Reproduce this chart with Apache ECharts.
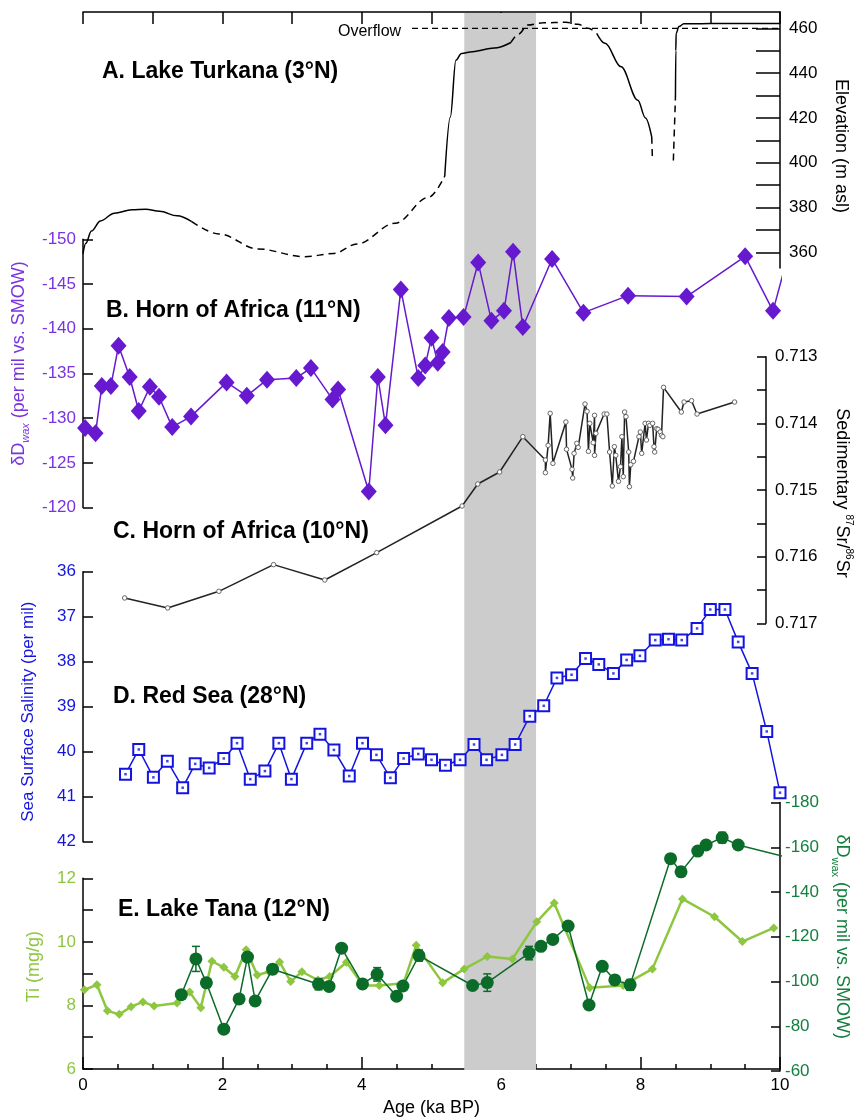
<!DOCTYPE html>
<html>
<head>
<meta charset="utf-8">
<script src="https://cdn.jsdelivr.net/npm/echarts@6.0.0/dist/echarts.min.js"></script>
<style>
html,body{margin:0;padding:0;background:#fff;}
#main{width:862px;height:1118px;}
</style>
</head>
<body>
<div id="main"></div>
<script>
// ---------------- DATA ----------------
// A. Lake Turkana elevation (m asl) vs age (ka BP)
const turkanaSolid1 = [[0,359.4],[0.04,364],[0.12,369.5],[0.25,374],[0.45,377.5],[0.7,379],[0.9,379.2],[1.1,378.3],[1.35,376.3],[1.56,373.7]];
const turkanaDash1  = [[1.56,373.7],[1.95,368.2],[2.51,361.5],[3.18,358],[3.6,359.5],[3.93,363.7],[4.48,373],[4.96,384.6],[5.19,394]];
const turkanaSolid2 = [[5.19,394],[5.27,420.4],[5.35,445.8],[5.43,448.8],[5.59,449.6],[5.9,451.2],[6.14,453.7]];
const turkanaDash2  = [[6.14,453.7],[6.25,457.5],[6.38,461.5],[6.6,462.5],[6.93,462.7],[7.1,461.8],[7.25,460],[7.37,457.8]];
const turkanaSolid3 = [[7.37,457.8],[7.49,453.3],[7.72,442.8],[7.96,427.9],[8.07,420],[8.16,411.5]];
const turkanaDash3  = [[8.16,411.5],[8.17,401]];
const turkanaDash4  = [[8.47,401],[8.5,429.4]];
const turkanaSolid4 = [[8.5,429.4],[8.505,450],[8.51,457.8],[8.55,460.8],[8.62,462],[9.0,462.2],[10,462.2]];
const overflowLine  = [[4.72,460],[10,460]];
const elevTicks  = [360,370,380,390,400,410,420,430,440,450,460];
const elevLabels = [360,380,400,420,440,460];

// B. Horn of Africa leaf wax dD
const hornAge = [0.03,0.18,0.27,0.40,0.51,0.67,0.80,0.96,1.09,1.28,1.55,2.06,2.35,2.64,3.06,3.27,3.58,3.66,4.10,4.23,4.34,4.56,4.81,4.91,5.00,5.09,5.16,5.25,5.46,5.67,5.86,6.04,6.17,6.31,6.73,7.18,7.82,8.66,9.50,9.90,10.15];
const hornDD  = [-128.9,-128.3,-133.6,-133.6,-138.1,-134.6,-130.8,-133.5,-132.4,-129.0,-130.2,-134.0,-132.5,-134.3,-134.5,-135.6,-132.1,-133.2,-121.8,-134.6,-129.2,-144.4,-134.5,-135.9,-139.0,-136.2,-137.4,-141.2,-141.3,-147.4,-140.9,-142.0,-148.6,-140.2,-147.8,-141.8,-143.7,-143.6,-148.1,-142.0,-149.2];

// C. Horn of Africa sedimentary 87Sr/86Sr
const srAge = [0.61,1.24,1.99,2.79,3.54,4.30,5.55,5.78,6.10,6.44,6.77,6.77,6.81,6.84,6.88,7.07,7.08,7.16,7.17,7.19,7.23,7.25,7.35,7.38,7.40,7.42,7.47,7.49,7.49,7.51,7.63,7.67,7.71,7.75,7.78,7.80,7.84,7.87,7.89,7.91,7.93,7.95,7.99,8.00,8.02,8.06,8.14,8.16,8.18,8.23,8.25,8.28,8.30,8.34,8.36,8.37,8.40,8.42,8.45,8.47,8.49,8.50,8.76,8.80,8.91,8.99,9.54];
const srVal = [0.71662,0.71677,0.71652,0.71612,0.71635,0.71594,0.71524,0.71491,0.71473,0.71420,0.71455,0.71474,0.71433,0.71385,0.71460,0.71398,0.71439,0.71469,0.71482,0.71445,0.71430,0.71436,0.71371,0.71382,0.71442,0.71400,0.71429,0.71388,0.71448,0.71415,0.71386,0.71386,0.71443,0.71494,0.71435,0.71448,0.71487,0.71465,0.71420,0.71480,0.71383,0.71390,0.71443,0.71495,0.71462,0.71457,0.71420,0.71413,0.71445,0.71400,0.71425,0.71400,0.71403,0.71400,0.71435,0.71443,0.71408,0.71409,0.71413,0.71418,0.71420,0.71346,0.71383,0.71368,0.71366,0.71386,0.71368];

// D. Red Sea sea surface salinity
const sssAge = [0.61,0.80,1.01,1.21,1.43,1.61,1.81,2.02,2.21,2.40,2.61,2.81,2.99,3.21,3.40,3.60,3.82,4.01,4.21,4.41,4.60,4.81,5.00,5.20,5.41,5.61,5.79,6.01,6.20,6.41,6.61,6.80,7.01,7.21,7.40,7.61,7.80,7.99,8.21,8.40,8.59,8.81,9.00,9.21,9.40,9.60,9.81,10.0];
const sssVal = [40.50,39.95,40.57,40.21,40.80,40.27,40.36,40.15,39.81,40.61,40.43,39.81,40.61,39.81,39.61,39.96,40.54,39.81,40.07,40.58,40.15,40.05,40.18,40.30,40.18,39.84,40.18,40.07,39.84,39.21,38.98,38.36,38.29,37.93,38.06,38.26,37.96,37.87,37.52,37.50,37.52,37.26,36.84,36.84,37.56,38.26,39.55,40.91];

// E. Lake Tana Ti (mg/g) and leaf wax dD
const tiAge = [0.02,0.20,0.35,0.52,0.69,0.86,1.02,1.35,1.53,1.69,1.85,2.02,2.18,2.34,2.50,2.67,2.82,2.98,3.14,3.37,3.54,3.78,4.02,4.25,4.60,4.78,5.16,5.47,5.80,6.16,6.51,6.76,7.27,7.75,8.17,8.60,9.06,9.46,9.91];
const tiVal = [8.49,8.65,7.83,7.72,7.96,8.11,7.98,8.08,8.42,7.93,9.39,9.20,8.91,9.75,8.96,9.06,9.37,8.75,9.06,8.80,8.91,9.36,8.63,8.63,8.70,9.89,8.71,9.15,9.54,9.46,10.63,11.22,8.56,8.63,9.15,11.35,10.79,10.01,10.44];
const tanaAge = [1.41,1.62,1.77,2.02,2.24,2.36,2.47,2.72,3.38,3.53,3.71,4.01,4.22,4.50,4.59,4.82,5.59,5.80,6.40,6.57,6.74,6.96,7.26,7.45,7.63,7.85,8.43,8.58,8.82,8.94,9.17,9.40,10.3];
const tanaDD  = [-94.1,-110.1,-99.4,-78.7,-92.2,-110.9,-91.3,-105.5,-98.8,-97.8,-114.9,-98.9,-103.2,-93.4,-98.0,-111.6,-98.2,-99.5,-112.7,-115.7,-118.8,-124.8,-89.5,-106.8,-100.7,-98.5,-154.9,-149.0,-158.3,-161.0,-164.3,-161.0,-154.0];
const tanaErrAge  = [1.62,2.72,3.38,4.22,4.82,5.80,6.40,7.85,9.17];
const tanaErrHalf = [5.6,2.0,2.5,3.0,2.5,3.9,3.0,2.4,2.4];

// shaded interval (ka BP)
const bandAge = [5.47, 6.5];

// text
const panelTitles = ['A. Lake Turkana (3°N)','B. Horn of Africa (11°N)','C. Horn of Africa (10°N)','D. Red Sea (28°N)','E. Lake Tana (12°N)'];

// ---------------- CHART ----------------
const FONT = '"Liberation Sans", Arial, sans-serif';
const PURPLE = '#6619cf', PURPLE_T = '#7a33e0';
const BLUE = '#1414e0';
const LGREEN = '#8dc63f';
const DGREEN = '#0b6b28', DGREEN_T = '#13803f';
const zip = (a,b) => a.map((v,i)=>[v,b[i]]);

const L = 83, R = 82;
const grids = [
  {left:L, right:R, top:12,    height:256},   // 0 A
  {left:L, right:R, top:239.3, height:268.3}, // 1 B
  {left:L, right:R, top:356.7, height:266.6}, // 2 C
  {left:L, right:R, top:571.7, height:270},   // 3 D
  {left:L, right:R, top:878.3, height:192.7}, // 4 E Ti
  {left:L, right:R, top:802.5, height:268.5}, // 5 E dD
  {left:L, right:R, top:13,    height:1057}   // 6 band
];

const axLine = {show:true, onZero:false, lineStyle:{color:'#000', width:1.5}};
const tickStyle = {color:'#000', width:1.5};

function hiddenX(i){ return {type:'value', gridIndex:i, min:0, max:10, show:false}; }

const xAxes = [
  {type:'value', gridIndex:0, min:0, max:10, interval:1, position:'top',
   axisLine:axLine, axisTick:{show:true, inside:true, length:12, lineStyle:tickStyle},
   axisLabel:{show:false}, splitLine:{show:false}},
  hiddenX(1), hiddenX(2), hiddenX(3),
  {type:'value', gridIndex:4, min:0, max:10, interval:2, position:'bottom',
   axisLine:axLine, axisTick:{show:true, inside:true, length:12, lineStyle:tickStyle},
   minorTick:{show:true, splitNumber:4, length:5, lineStyle:tickStyle},
   axisLabel:{color:'#000', fontSize:17, fontFamily:FONT, margin:8},
   splitLine:{show:false}, minorSplitLine:{show:false},
   name:'Age (ka BP)', nameLocation:'middle', nameGap:30,
   nameTextStyle:{color:'#000', fontSize:18, fontFamily:FONT}},
  hiddenX(5), hiddenX(6)
];

const yAxes = [
  // 0 elevation
  {type:'value', gridIndex:0, min:353, max:467.3, position:'right',
   axisLine:axLine,
   axisTick:{show:true, inside:true, length:24, lineStyle:tickStyle, customValues:elevTicks},
   axisLabel:{color:'#000', fontSize:17, fontFamily:FONT, margin:9, customValues:elevLabels},
   splitLine:{show:false},
   name:'Elevation (m asl)', nameLocation:'middle', nameRotate:-90, nameGap:52,
   nameTextStyle:{color:'#000', fontSize:18, fontFamily:FONT, padding:[0,0,0,12]}},
  // 1 Horn dD
  {type:'value', gridIndex:1, min:-150, max:-120, interval:5, inverse:true, position:'left',
   axisLine:axLine, axisTick:{show:true, inside:true, length:10, lineStyle:tickStyle},
   axisLabel:{color:PURPLE_T, fontSize:17, fontFamily:FONT, margin:7},
   splitLine:{show:false},
   name:'{a|δD}{s|wax}{a| (per mil vs. SMOW)}', nameLocation:'middle', nameRotate:90, nameGap:50,
   nameTextStyle:{color:PURPLE_T, fontFamily:FONT, padding:[0,0,0,20], rich:{
     a:{color:PURPLE_T, fontSize:18, fontFamily:FONT, lineHeight:24, verticalAlign:'middle'},
     s:{color:PURPLE_T, fontSize:11, fontStyle:'italic', fontFamily:FONT, lineHeight:12, verticalAlign:'bottom'}}}},
  // 2 Sr
  {type:'value', gridIndex:2, min:0.713, max:0.717, interval:0.0005, inverse:true, position:'right',
   axisLine:axLine, axisTick:{show:true, inside:true, length:9, lineStyle:tickStyle},
   axisLabel:{color:'#000', fontSize:17, fontFamily:FONT, margin:9,
     formatter:v=>{const k=Math.round(v*2000); return k%2===0 ? (k/2000).toFixed(3) : '';}},
   splitLine:{show:false},
   name:'{a|Sedimentary }{p|87}{a|Sr/}{p|86}{a|Sr}', nameLocation:'middle', nameRotate:-90, nameGap:64,
   nameTextStyle:{color:'#000', fontFamily:FONT, padding:[0,0,0,6], rich:{
     a:{color:'#000', fontSize:18, fontFamily:FONT, lineHeight:24, verticalAlign:'middle'},
     p:{color:'#000', fontSize:10, fontFamily:FONT, lineHeight:12, verticalAlign:'top'}}}},
  // 3 SSS
  {type:'value', gridIndex:3, min:36, max:42, interval:1, inverse:true, position:'left',
   axisLine:axLine, axisTick:{show:true, inside:true, length:10, lineStyle:tickStyle},
   axisLabel:{color:BLUE, fontSize:17, fontFamily:FONT, margin:7},
   splitLine:{show:false},
   name:'Sea Surface Salinity (per mil)', nameLocation:'middle', nameRotate:90, nameGap:46,
   nameTextStyle:{color:BLUE, fontSize:17, fontFamily:FONT, padding:[0,10,0,0]}},
  // 4 Ti
  {type:'value', gridIndex:4, min:6, max:12, interval:1, position:'left',
   axisLine:axLine, axisTick:{show:true, inside:true, length:10, lineStyle:tickStyle},
   axisLabel:{color:LGREEN, fontSize:17, fontFamily:FONT, margin:7,
     formatter:v=>(Math.round(v)%2===0 ? String(Math.round(v)) : '')},
   splitLine:{show:false},
   name:'Ti (mg/g)', nameLocation:'middle', nameRotate:90, nameGap:40,
   nameTextStyle:{color:LGREEN, fontSize:18, fontFamily:FONT, padding:[0,0,0,14]}},
  // 5 Tana dD
  {type:'value', gridIndex:5, min:-180, max:-60, interval:20, inverse:true, position:'right',
   axisLine:axLine, axisTick:{show:true, inside:true, length:9, lineStyle:tickStyle},
   axisLabel:{color:DGREEN_T, fontSize:17, fontFamily:FONT, margin:5},
   splitLine:{show:false},
   name:'{a|δD}{s|wax}{a| (per mil vs. SMOW)}', nameLocation:'middle', nameRotate:-90, nameGap:50,
   nameTextStyle:{color:DGREEN_T, fontFamily:FONT, rich:{
     a:{color:DGREEN_T, fontSize:18, fontFamily:FONT, lineHeight:24, verticalAlign:'middle'},
     s:{color:DGREEN_T, fontSize:11, fontFamily:FONT, lineHeight:12, verticalAlign:'bottom'}}}},
  // 6 band
  {type:'value', gridIndex:6, min:0, max:1, show:false}
];

function curve(data, dashed){
  return {type:'line', xAxisIndex:0, yAxisIndex:0, data:data, showSymbol:false, symbol:'none',
    smooth:0.35, smoothMonotone:'x', clip:true, z:5, silent:true,
    lineStyle:{color:'#000', width:1.5, type: dashed ? [7,5] : 'solid'}};
}

const hornData = zip(hornAge, hornDD).map((p,i)=> i===hornAge.length-1 ? {value:p, symbol:'none'} : p);
const tanaData = zip(tanaAge, tanaDD).map((p,i)=> i===tanaAge.length-1 ? {value:p, symbol:'none'} : p);
const errData = tanaErrAge.map((a,i)=>{ const c = tanaDD[tanaAge.indexOf(a)]; return [a, c - tanaErrHalf[i], c + tanaErrHalf[i]]; });

const series = [
  {type:'line', xAxisIndex:6, yAxisIndex:6, data:[], z:1, silent:true,
   markArea:{silent:true, itemStyle:{color:'#cccccc'}, data:[[{xAxis:bandAge[0]},{xAxis:bandAge[1]}]]}},
  curve(turkanaSolid1,false), curve(turkanaDash1,true), curve(turkanaSolid2,false), curve(turkanaDash2,true),
  curve(turkanaSolid3,false), curve(turkanaDash3,true), curve(turkanaDash4,true), curve(turkanaSolid4,false),
  {type:'line', xAxisIndex:0, yAxisIndex:0, data:overflowLine, symbol:'none', z:5, silent:true,
   lineStyle:{color:'#000', width:1.3, type:[6,4]}},
  {type:'line', xAxisIndex:1, yAxisIndex:1, data:hornData, symbol:'diamond', symbolSize:[16,18],
   clip:true, z:6, silent:true,
   itemStyle:{color:PURPLE}, lineStyle:{color:PURPLE, width:1.5}},
  {type:'line', xAxisIndex:2, yAxisIndex:2, data:zip(srAge, srVal), symbol:'circle', symbolSize:4.5,
   z:6, silent:true,
   itemStyle:{color:'#fff', borderColor:'#666', borderWidth:1}, lineStyle:{color:'#222', width:1.5}},
  {type:'line', xAxisIndex:3, yAxisIndex:3, data:zip(sssAge, sssVal), symbol:'rect', symbolSize:11,
   z:6, silent:true,
   itemStyle:{color:'#fff', borderColor:BLUE, borderWidth:2}, lineStyle:{color:BLUE, width:1.5}},
  {type:'scatter', xAxisIndex:3, yAxisIndex:3, data:zip(sssAge, sssVal), symbol:'rect', symbolSize:2.5,
   z:7, silent:true, itemStyle:{color:BLUE}},
  {type:'line', xAxisIndex:4, yAxisIndex:4, data:zip(tiAge, tiVal), symbol:'diamond', symbolSize:9,
   z:6, silent:true,
   itemStyle:{color:LGREEN}, lineStyle:{color:LGREEN, width:2.5}},
  {type:'custom', xAxisIndex:5, yAxisIndex:5, data:errData, z:7, silent:true,
   renderItem:(params, api)=>{
     const x = api.coord([api.value(0), api.value(1)])[0];
     const y1 = api.coord([api.value(0), api.value(1)])[1];
     const y2 = api.coord([api.value(0), api.value(2)])[1];
     const st = {stroke:DGREEN, lineWidth:1.5};
     return {type:'group', children:[
       {type:'line', shape:{x1:x, y1:y1, x2:x, y2:y2}, style:st},
       {type:'line', shape:{x1:x-4, y1:y1, x2:x+4, y2:y1}, style:st},
       {type:'line', shape:{x1:x-4, y1:y2, x2:x+4, y2:y2}, style:st}]};
   }},
  {type:'line', xAxisIndex:5, yAxisIndex:5, data:tanaData, symbol:'circle', symbolSize:13,
   clip:true, z:8, silent:true,
   itemStyle:{color:DGREEN}, lineStyle:{color:DGREEN, width:1.5}}
];

const titlePos = [[102,72],[106,311],[113,532],[113,697],[118,910]];
const graphics = panelTitles.map((t,i)=>({type:'text', x:titlePos[i][0], y:titlePos[i][1], z:20,
  style:{text:t, font:'bold 23px ' + FONT, fill:'#000', verticalAlign:'middle', textVerticalAlign:'middle'}}));
graphics.push({type:'text', x:338, y:32, z:20,
  style:{text:'Overflow', font:'16px ' + FONT, fill:'#000', verticalAlign:'middle', textVerticalAlign:'middle'}});

const chart = echarts.init(document.getElementById('main'), null, {renderer:'canvas'});
chart.setOption({
  animation:false,
  backgroundColor:'#fff',
  grid:grids,
  xAxis:xAxes,
  yAxis:yAxes,
  series:series,
  graphic:graphics
});
</script>
</body>
</html>
